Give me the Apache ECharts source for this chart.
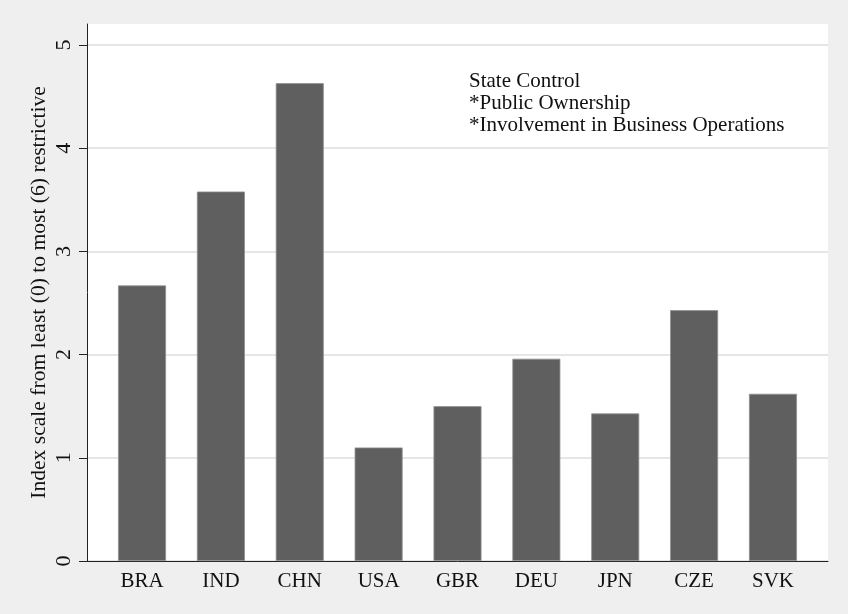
<!DOCTYPE html>
<html>
<head>
<meta charset="utf-8">
<script src="https://cdn.jsdelivr.net/npm/echarts@6/dist/echarts.min.js"></script>
<style>
html,body{margin:0;padding:0;background:#ffffff;}
#chart{width:848px;height:614px;}
</style>
</head>
<body>
<div id="chart"></div>
<script>
var categories = ['BRA', 'IND', 'CHN', 'USA', 'GBR', 'DEU', 'JPN', 'CZE', 'SVK'];
var values = [2.67, 3.58, 4.63, 1.10, 1.50, 1.96, 1.43, 2.43, 1.62];
var yTicks = [0, 1, 2, 3, 4, 5];
var noteLines = ['State Control', '*Public Ownership', '*Involvement in Business Operations'];
var yTitle = 'Index scale from least (0) to most (6) restrictive';

var FONT = '"Liberation Serif", "Times New Roman", serif';
var chart = echarts.init(document.getElementById('chart'), null, {renderer: 'canvas'});

var option = {
  backgroundColor: '#efefef',
  animation: false,
  title: {
    text: noteLines.join('\n'),
    left: 469,
    top: 70,
    padding: 0,
    textStyle: {fontFamily: FONT, fontSize: 21, lineHeight: 22, fontWeight: 'normal', color: '#111'}
  },
  grid: [
    {left: 87, right: 20, top: 24, bottom: 53, show: true, backgroundColor: '#ffffff', borderWidth: 0, z: 0},
    {left: 87, right: 20, top: 45, bottom: 53, z: 1},
    {left: 102.6, right: 35.6, top: 45, bottom: 53, z: 2}
  ],
  xAxis: [
    {gridIndex: 0, type: 'value', min: 0, max: 1, show: true,
     axisLine: {show: true, onZero: false, lineStyle: {color: '#222', width: 1}},
     axisTick: {show: false}, axisLabel: {show: false}, splitLine: {show: false}},
    {gridIndex: 1, type: 'value', min: 0, max: 1, show: false},
    {gridIndex: 2, type: 'category', data: categories,
     axisLine: {show: false}, axisTick: {show: false},
     axisLabel: {fontFamily: FONT, fontSize: 21, color: '#111', margin: 10}}
  ],
  yAxis: [
    {gridIndex: 0, type: 'value', min: 0, max: 1,
     name: yTitle, nameLocation: 'middle', nameGap: 37,
     nameTextStyle: {fontFamily: FONT, fontSize: 21.6, color: '#111'},
     axisLine: {show: true, lineStyle: {color: '#222', width: 1}},
     axisTick: {show: false}, axisLabel: {show: false}, splitLine: {show: false}},
    {gridIndex: 1, type: 'value', min: yTicks[0], max: yTicks[yTicks.length - 1], interval: 1,
     axisLine: {show: false},
     axisTick: {show: true, length: 8, lineStyle: {color: '#222'}},
     axisLabel: {fontFamily: FONT, fontSize: 22, color: '#111', rotate: 90, margin: 12},
     splitLine: {show: true, lineStyle: {color: '#e6e6e6', width: 2}}},
    {gridIndex: 2, type: 'value', min: yTicks[0], max: yTicks[yTicks.length - 1], show: false}
  ],
  series: [{
    type: 'bar',
    xAxisIndex: 2,
    yAxisIndex: 2,
    data: values,
    barWidth: 48,
    itemStyle: {color: '#5f5f5f', borderColor: '#8f8f8f', borderWidth: 0.8},
    z: 3
  }]
};
chart.setOption(option);
</script>
</body>
</html>
